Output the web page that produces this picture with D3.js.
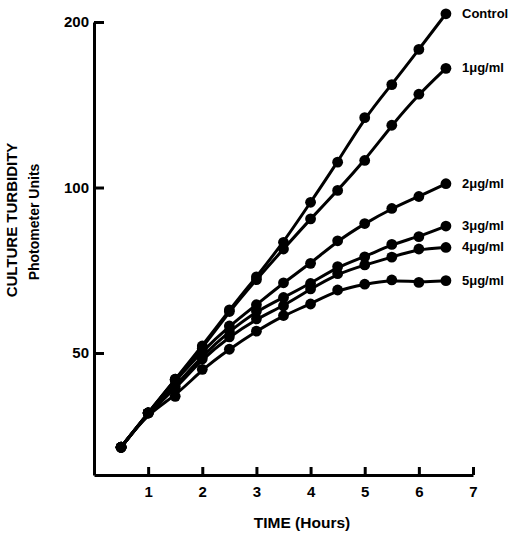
<!DOCTYPE html>
<html>
<head>
<meta charset="utf-8">
<script src="https://cdn.jsdelivr.net/npm/d3@7"></script>
<style>
  html, body { margin: 0; padding: 0; background: #fff; }
  svg { display: block; font-family: "Liberation Sans", Arial, Helvetica, sans-serif; }
</style>
</head>
<body>
<div id="chart"></div>
<script>
'use strict';

// sampling times (hours)
var times = [0.5, 1, 1.5, 2, 2.5, 3, 3.5, 4, 4.5, 5, 5.5, 6, 6.5];

// turbidity readings (photometer units)
var control = [33.7, 38.9, 44.8, 51.5, 59.9, 68.8, 79.5, 94.0, 111.2, 134.0, 153.9, 178.3, 207.0];
var dose1 = [33.7, 38.9, 44.8, 51.0, 59.5, 68.0, 77.3, 87.7, 98.8, 112.0, 129.8, 147.8, 164.7];
var dose2 = [33.7, 38.9, 44.5, 50.4, 56.0, 61.2, 67.1, 72.8, 80.0, 86.0, 91.6, 96.3, 101.6];
var dose3 = [33.7, 38.9, 43.5, 49.4, 54.8, 59.6, 63.1, 66.9, 71.8, 74.8, 78.8, 81.4, 85.1];
var dose4 = [33.7, 38.9, 43.0, 48.8, 53.5, 57.7, 60.9, 65.4, 69.7, 72.3, 74.7, 77.3, 77.8];
var dose5 = [33.7, 38.9, 41.7, 46.7, 50.8, 54.8, 58.5, 61.4, 65.1, 66.7, 67.9, 67.2, 67.7];

var seriesNames = ['Control', '1\u03bcg/ml', '2\u03bcg/ml', '3\u03bcg/ml', '4\u03bcg/ml', '5\u03bcg/ml'];
var seriesValues = [control, dose1, dose2, dose3, dose4, dose5];

var xTicks = [1, 2, 3, 4, 5, 6, 7];
var yTicks = [50, 100, 200];

var width = 514, height = 534;

var svg = d3.select('#chart').append('svg')
  .attr('width', width)
  .attr('height', height);

var x = d3.scaleLinear().domain([0, 7]).range([94, 473]);
var y = d3.scaleLog().domain([30, 200]).range([475, 22]);

// axes
var xAxis = svg.append('g')
  .attr('transform', 'translate(0,475)')
  .call(d3.axisBottom(x).tickValues(xTicks).tickSize(-8).tickSizeOuter(0).tickPadding(11).tickFormat(d3.format('d')));

var yAxis = svg.append('g')
  .attr('transform', 'translate(94,0)')
  .call(d3.axisLeft(y).tickValues(yTicks).tickSize(-10).tickSizeOuter(0).tickPadding(5).tickFormat(d3.format('d')));

[xAxis, yAxis].forEach(function (ax) {
  ax.select('.domain').attr('stroke', '#000').attr('stroke-width', 3);
  ax.selectAll('.tick line').attr('stroke', '#000').attr('stroke-width', 3);
  ax.selectAll('.tick text')
    .attr('fill', '#000')
    .attr('font-size', 15)
    .attr('font-weight', 'bold')
    .attr('font-family', '"Liberation Sans", Arial, sans-serif');
});

// axis titles
svg.append('text')
  .attr('x', 302)
  .attr('y', 528)
  .attr('text-anchor', 'middle')
  .attr('font-size', 15.5)
  .attr('font-weight', 'bold')
  .text('TIME (Hours)');

svg.append('text')
  .attr('transform', 'translate(17,220) rotate(-90)')
  .attr('text-anchor', 'middle')
  .attr('font-size', 15)
  .attr('font-weight', 'bold')
  .text('CULTURE TURBIDITY');

svg.append('text')
  .attr('transform', 'translate(39,222) rotate(-90)')
  .attr('text-anchor', 'middle')
  .attr('font-size', 14)
  .attr('font-weight', 'bold')
  .text('Photometer Units');

// curves (smooth fit, as drawn by hand in the original)
var line = d3.line()
  .x(function (d) { return x(d[0]); })
  .y(function (d) { return y(d[1]); })
  .curve(d3.curveBasis);

var series = seriesNames.map(function (name, i) {
  return {
    name: name,
    points: times.map(function (t, j) { return [t, seriesValues[i][j]]; })
  };
});

var g = svg.append('g');

g.selectAll('path.curve')
  .data(series)
  .join('path')
  .attr('class', 'curve')
  .attr('fill', 'none')
  .attr('stroke', '#000')
  .attr('stroke-width', 3)
  .attr('d', function (d) { return line(d.points); });

g.selectAll('g.dots')
  .data(series)
  .join('g')
  .attr('class', 'dots')
  .selectAll('circle')
  .data(function (d) { return d.points; })
  .join('circle')
  .attr('cx', function (d) { return x(d[0]); })
  .attr('cy', function (d) { return y(d[1]); })
  .attr('r', 5.4)
  .attr('fill', '#000');

// end labels
g.selectAll('text.label')
  .data(series)
  .join('text')
  .attr('class', 'label')
  .attr('x', 462)
  .attr('y', function (d) { return y(d.points[d.points.length - 1][1]); })
  .attr('dy', '0.3em')
  .attr('font-size', 13)
  .attr('font-weight', 'bold')
  .attr('fill', '#000')
  .text(function (d) { return d.name; });
</script>
</body>
</html>
